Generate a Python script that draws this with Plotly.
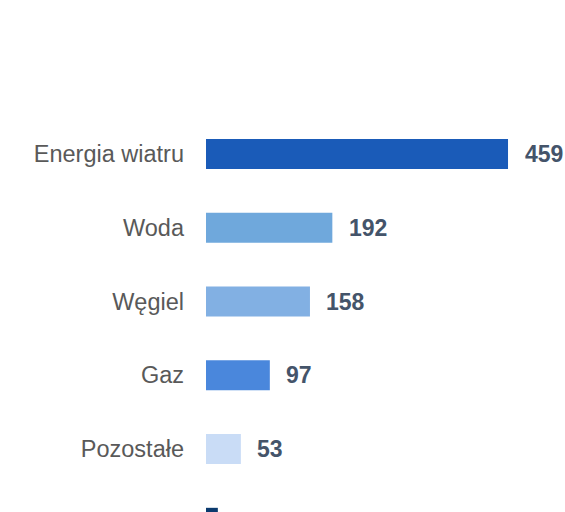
import plotly.graph_objects as go

categories = ["Energia wiatru", "Woda", "Węgiel", "Gaz", "Pozostałe", "Energia słoneczna"]
values = [459, 192, 158, 97, 53, 18]
bar_colors = ["#1a5bb8", "#6fa8dc", "#82b0e3", "#4a87dc", "#c9dcf6", "#0b3a6e"]

FONT = "Arial, 'Liberation Sans', sans-serif"

fig = go.Figure(
    go.Bar(
        x=values,
        y=categories,
        orientation="h",
        marker=dict(color=bar_colors, line=dict(width=0)),
        width=0.405,
        hoverinfo="skip",
    )
)

for c, v in zip(categories, values):
    fig.add_annotation(
        x=v, y=c, text=f"<b>{v}</b>", showarrow=False,
        xanchor="left", yanchor="middle", xshift=14.5,
        font=dict(family=FONT, size=23, color="#44546a"),
    )

fig.update_layout(
    width=565, height=512,
    margin=dict(l=206, r=0, t=0, b=0),
    paper_bgcolor="white", plot_bgcolor="white",
    showlegend=False,
    hovermode=False,
    xaxis=dict(range=[0, 359 / 0.658], visible=False, fixedrange=True),
    yaxis=dict(
        type="category",
        categoryorder="array", categoryarray=categories,
        range=[358 / 73.75, -154 / 73.75],
        showgrid=False, zeroline=False, showline=False,
        ticks="", ticklabelstandoff=21,
        tickfont=dict(family=FONT, size=23.5, color="#595959"),
        fixedrange=True,
    ),
)

fig.write_html(
    "out.html",
    config={"displayModeBar": False},
    post_script="document.body.style.margin='0';document.body.style.overflow='hidden';",
)
